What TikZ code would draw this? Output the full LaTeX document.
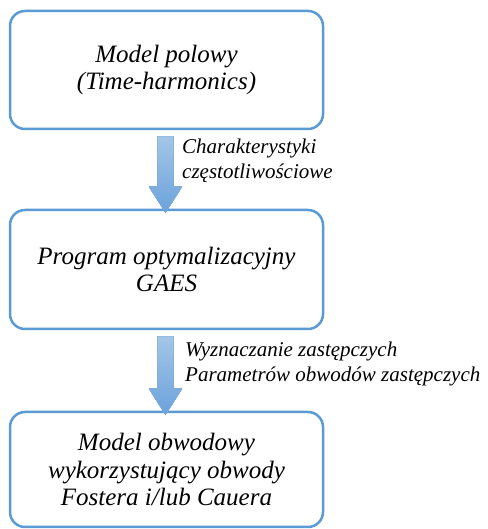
\documentclass[tikz,border=0pt]{standalone}
\usepackage{fontspec}
\newfontfamily\tnrfont{Liberation Serif}
\usetikzlibrary{calc}
\definecolor{bordblue}{HTML}{5B9BD5}
\definecolor{arrtop}{HTML}{A4C6E8}
\definecolor{arrbot}{HTML}{6BA2DA}
\tikzset{
  box/.style={draw=bordblue, line width=2.5pt, rounded corners=15pt, fill=white,
    minimum width=313pt, align=center, inner sep=0pt,
    font=\tnrfont\itshape\fontsize{25}{27.5}\selectfont},
  lbl/.style={anchor=west, align=left, inner sep=0pt,
    font=\tnrfont\itshape\fontsize{21}{25}\selectfont},
  blockarrow/.style={top color=arrtop, bottom color=arrbot, draw=bordblue!80, line width=0.4pt}
}
\begin{document}
\begin{tikzpicture}[x=1pt,y=1pt]
\useasboundingbox (0,0) rectangle (487,529);
\node[box, minimum height=118pt] (b1) at (166.5,459) {Model polowy\\(Time-harmonics)};
\node[box, minimum height=119pt] (b2) at (166.5,259.5) {Program optymalizacyjny\\GAES};
\node[box, minimum height=115pt] (b3) at (166.5,59.5) {Model obwodowy\\wykorzystujący obwody\\Fostera i/lub Cauera};
% arrow 1
\coordinate (a1s) at ($(b1.south)+(-1,-6)$);
\coordinate (a1t) at ($(b2.north)+(-1,-4)$);
\fill[blockarrow] ($(a1s)+(-8,0)$) -- ($(a1s)+(8,0)$) -- ($(a1t)+(8,26)$) -- ($(a1t)+(16.5,26)$)
  -- (a1t) -- ($(a1t)+(-16.5,26)$) -- ($(a1t)+(-8,26)$) -- cycle;
\draw[blockarrow, fill=none] ($(a1s)+(-8,0)$) -- ($(a1s)+(8,0)$) -- ($(a1t)+(8,26)$) -- ($(a1t)+(16.5,26)$)
  -- (a1t) -- ($(a1t)+(-16.5,26)$) -- ($(a1t)+(-8,26)$) -- cycle;
% arrow 2
\coordinate (a2s) at ($(b2.south)+(-1,-6)$);
\coordinate (a2t) at ($(b3.north)+(-1,-4)$);
\fill[blockarrow] ($(a2s)+(-8,0)$) -- ($(a2s)+(8,0)$) -- ($(a2t)+(8,26)$) -- ($(a2t)+(16.5,26)$)
  -- (a2t) -- ($(a2t)+(-16.5,26)$) -- ($(a2t)+(-8,26)$) -- cycle;
\draw[blockarrow, fill=none] ($(a2s)+(-8,0)$) -- ($(a2s)+(8,0)$) -- ($(a2t)+(8,26)$) -- ($(a2t)+(16.5,26)$)
  -- (a2t) -- ($(a2t)+(-16.5,26)$) -- ($(a2t)+(-8,26)$) -- cycle;
\node[lbl] (l1) at (182,368.5) {Charakterystyki\\częstotliwościowe};
\node[lbl] (l2) at (185,165.5) {Wyznaczanie zastępczych\\Parametrów obwodów zastępczych};
\end{tikzpicture}
\end{document}
